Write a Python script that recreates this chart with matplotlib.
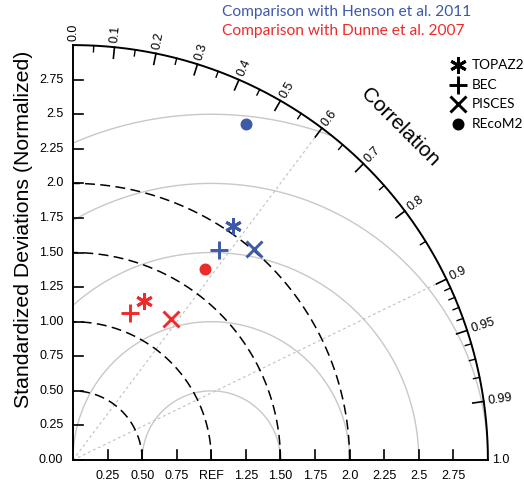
import numpy as np
import matplotlib
matplotlib.use("Agg")
import matplotlib.pyplot as plt

# ---------------- data ----------------
models = ["TOPAZ2", "BEC", "PISCES", "REcoM2"]
henson_std = [2.05, 1.85, 2.01, 2.73]
henson_corr = [0.565, 0.571, 0.652, 0.458]
dunne_std = [1.26, 1.14, 1.24, 1.68]
dunne_corr = [0.409, 0.361, 0.570, 0.570]

std_ticks = [0.0, 0.25, 0.5, 0.75, 1.0, 1.25, 1.5, 1.75, 2.0, 2.25, 2.5, 2.75]
y_ticklabels = ["0.00", "0.25", "0.50", "0.75", "1.00", "1.25", "1.50", "1.75",
                "2.0", "2.25", "2.5", "2.75"]
x_ticklabels = ["", "0.25", "0.50", "0.75", "REF", "1.25", "1.50", "1.75",
                "2.0", "2.25", "2.5", "2.75"]
corr_major = [0.0, 0.1, 0.2, 0.3, 0.4, 0.5, 0.6, 0.7, 0.8, 0.9, 0.95, 0.99, 1.0]
corr_labels = ["0.0", "0.1", "0.2", "0.3", "0.4", "0.5", "0.6", "0.7", "0.8",
               "0.9", "0.95", "0.99", "1.0"]
corr_minor = [0.05, 0.15, 0.25, 0.35, 0.45, 0.55, 0.65, 0.75, 0.85,
              0.91, 0.92, 0.93, 0.94, 0.96, 0.97, 0.98]
std_circles = [0.5, 1.0, 1.5, 2.0]
rms_circles = [0.5, 1.0, 1.5, 2.0, 2.5]
corr_lines = [0.6, 0.9]
ref_std = 1.0
rmax = 3.0

BLUE = "#3d5aa8"
RED = "#ee2b2b"
markers = [(6, 2, 0), "+", "x", "o"]
msizes = [12, 13, 11, 6.5]

# ---------------- figure ----------------
S = 138.3  # pixels per unit
ox, oy = 73, 460
fig = plt.figure(figsize=(5.24, 4.88), dpi=100)
ax = fig.add_axes([0, 0, 1, 1])
ax.set_xlim(-ox / S, (524 - ox) / S)
ax.set_ylim(-(488 - oy) / S, oy / S)
ax.axis("off")

TF = "Liberation Sans"
LF = "Lato"

# RMS circles (gray)
phi = np.linspace(0, np.pi, 800)
for r in rms_circles:
    x = ref_std + r * np.cos(phi)
    y = r * np.sin(phi)
    m = (x >= 0) & (np.hypot(x, y) <= rmax)
    x = np.where(m, x, np.nan)
    y = np.where(m, y, np.nan)
    ax.plot(x, y, color="#c8c8c8", lw=1.0, zorder=1)

# std circles (black dashed)
th = np.linspace(0, np.pi / 2, 400)
for r in std_circles:
    ax.plot(r * np.cos(th), r * np.sin(th), color="black", lw=1.1,
            dashes=(6.5, 3.5), zorder=2)

# correlation lines
for c in corr_lines:
    t = np.arccos(c)
    ax.plot([0, rmax * np.cos(t)], [0, rmax * np.sin(t)], color="#c0c0c0",
            lw=0.8, dashes=(2.5, 2.5), zorder=1)

# outer arc and axes
ax.plot(rmax * np.cos(th), rmax * np.sin(th), color="black", lw=1.4, zorder=3)
ax.plot([0, 0], [0, rmax], color="black", lw=1.4, zorder=3)
ax.plot([0, rmax], [0, 0], color="black", lw=1.4, zorder=3)

tl = 10 / S
for v, lab in zip(std_ticks, y_ticklabels):
    ax.plot([0, tl], [v, v], color="black", lw=1.2, zorder=3)
    ax.text(-0.07, v, lab, ha="right", va="center", fontsize=9, family=TF)
for v, lab in zip(std_ticks, x_ticklabels):
    if v > 0:
        ax.plot([v, v], [0, tl], color="black", lw=1.2, zorder=3)
    ax.text(v, -0.116, lab, ha="center", va="center", fontsize=9, family=TF)

# correlation ticks
for c, lab in zip(corr_major, corr_labels):
    t = np.arccos(c)
    if 0 < c < 1:
        ax.plot([rmax * np.cos(t), (rmax - 0.08) * np.cos(t)],
                [rmax * np.sin(t), (rmax - 0.08) * np.sin(t)],
                color="black", lw=1.2, zorder=3)
    ax.text(3.03 * np.cos(t), 3.03 * np.sin(t), lab, rotation=np.degrees(t),
            rotation_mode="anchor", ha="left", va="center", fontsize=9, family=TF)
for c in corr_minor:
    t = np.arccos(c)
    ax.plot([rmax * np.cos(t), (rmax - 0.045) * np.cos(t)],
            [rmax * np.sin(t), (rmax - 0.045) * np.sin(t)],
            color="black", lw=1.0, zorder=3)

ax.text(3.37 * np.cos(np.radians(45.5)), 3.37 * np.sin(np.radians(45.5)),
        "Correlation", rotation=-45, ha="center", va="center",
        fontsize=15, family=TF, rotation_mode="anchor")
ax.text(-0.36, 1.67, "Standardized Deviations (Normalized)", rotation=90,
        ha="center", va="center", fontsize=15.3, family=TF)

# data points
for std, corr, col in [(henson_std, henson_corr, BLUE), (dunne_std, dunne_corr, RED)]:
    for s, c, mk, ms in zip(std, corr, markers, msizes):
        t = np.arccos(c)
        ax.plot(s * np.cos(t), s * np.sin(t), marker=mk, ms=ms, color=col,
                mew=2.1, linestyle="none", zorder=5)

# titles
ax.text((222 - ox) / S, (oy - 12) / S, "Comparison with Henson et al. 2011",
        color=BLUE, fontsize=11.2, family=LF, ha="left", va="center")
ax.text((222 - ox) / S, (oy - 31) / S, "Comparison with Dunne et al. 2007",
        color=RED, fontsize=11.2, family=LF, ha="left", va="center")

# legend
leg_y = [65, 85, 104, 124]
for name, mk, ms, py in zip(models, markers, msizes, leg_y):
    ax.plot((458 - ox) / S, (oy - py) / S, marker=mk, ms=ms, color="black",
            mew=2.1, linestyle="none", clip_on=False)
    ax.text((472 - ox) / S, (oy - py) / S, name, fontsize=9.8, family=LF,
            ha="left", va="center")

fig.savefig("out.png", dpi=100)
